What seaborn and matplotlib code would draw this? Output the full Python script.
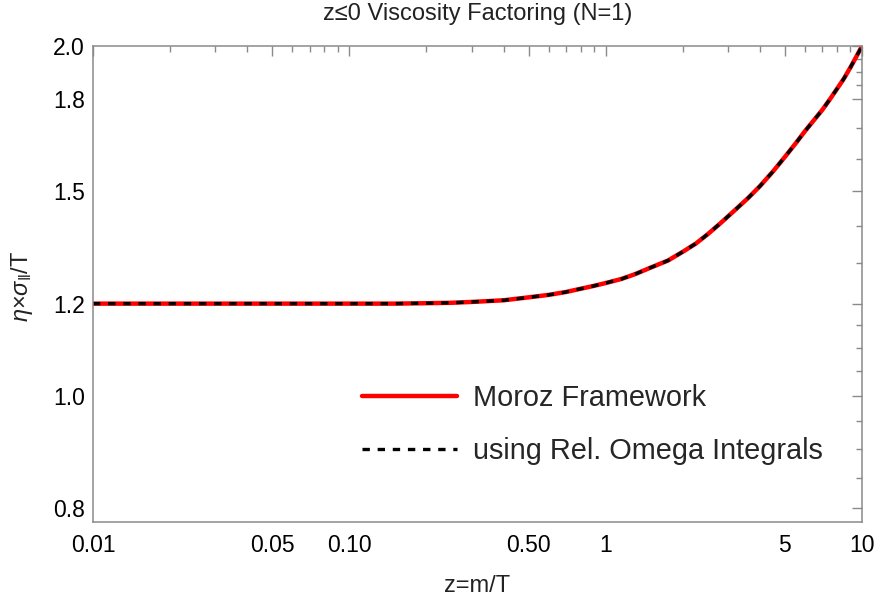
import numpy as np
import pandas as pd
import matplotlib
matplotlib.use("Agg")
import matplotlib.pyplot as plt
import matplotlib.ticker as mticker
import seaborn as sns

# values
z_vals = [0.01, 0.02, 0.05, 0.1, 0.15, 0.2, 0.25, 0.3, 0.4, 0.5, 0.6, 0.7, 0.8,
          0.9, 1.0, 1.15, 1.3, 1.5, 1.75, 2.0, 2.25, 2.5, 2.8, 3.2, 3.6, 4.0,
          4.5, 5.0, 5.5, 6.0, 6.5, 7.0, 7.5, 8.0, 8.5, 9.0, 9.5, 10.0]
eta_moroz = [1.2, 1.2, 1.2, 1.2, 1.2, 1.201, 1.202, 1.204, 1.208, 1.215, 1.221,
             1.228, 1.236, 1.243, 1.25, 1.26, 1.272, 1.289, 1.307, 1.33, 1.352,
             1.377, 1.407, 1.445, 1.48, 1.515, 1.56, 1.605, 1.648, 1.69, 1.727,
             1.762, 1.8, 1.838, 1.875, 1.916, 1.958, 2.0]
eta_omega = [1.2, 1.2, 1.2, 1.2, 1.2, 1.201, 1.202, 1.204, 1.208, 1.215, 1.221,
             1.228, 1.236, 1.243, 1.25, 1.26, 1.272, 1.289, 1.307, 1.33, 1.352,
             1.377, 1.407, 1.445, 1.48, 1.515, 1.56, 1.605, 1.648, 1.69, 1.727,
             1.762, 1.8, 1.838, 1.875, 1.916, 1.958, 2.0]

x_ticks = [0.01, 0.05, 0.1, 0.5, 1, 5, 10]
x_ticklabels = ["0.01", "0.05", "0.10", "0.50", "1", "5", "10"]
y_ticks = [0.8, 1.0, 1.2, 1.5, 1.8, 2.0]
y_ticklabels = ["0.8", "1.0", "1.2", "1.5", "1.8", "2.0"]
y_minor = [0.85, 0.9, 0.95, 1.05, 1.1, 1.15, 1.3, 1.4, 1.6, 1.7, 1.85, 1.9, 1.95]

sns.set_style("white")
plt.rcParams['font.family'] = ['Liberation Sans', 'DejaVu Sans']
plt.rcParams['mathtext.fontset'] = 'custom'
plt.rcParams['mathtext.rm'] = 'Liberation Sans'
plt.rcParams['mathtext.it'] = 'Liberation Sans:italic'
plt.rcParams['lines.scale_dashes'] = False

df = pd.DataFrame({"z": z_vals, "moroz": eta_moroz, "omega": eta_omega})

fig = plt.figure(figsize=(8.78, 6.03), dpi=100)
ax = fig.add_axes([0.1059, 0.1348, 0.8759, 0.7889])

sns.lineplot(data=df, x="z", y="moroz", ax=ax, color="#ff0000", lw=3.2,
             label="Moroz Framework", solid_joinstyle="round")
sns.lineplot(data=df, x="z", y="omega", ax=ax, color="black", lw=2.4,
             label="using Rel. Omega Integrals")
# dashed black on top of the red line (dash/gap in points)
ax.get_lines()[1].set_linestyle((0, (5.3, 5.6)))

ax.set_xscale("log")
ax.set_yscale("log")
ax.set_xlim(0.01, 10)
ax.set_ylim(0.7787, 2.0)

ax.xaxis.set_major_locator(mticker.FixedLocator(x_ticks))
ax.xaxis.set_major_formatter(mticker.FixedFormatter(x_ticklabels))
ax.xaxis.set_minor_locator(mticker.LogLocator(base=10, subs=[2, 3, 4, 6, 7, 8, 9]))
ax.xaxis.set_minor_formatter(mticker.NullFormatter())
ax.yaxis.set_major_locator(mticker.FixedLocator(y_ticks))
ax.yaxis.set_major_formatter(mticker.FixedFormatter(y_ticklabels))
ax.yaxis.set_minor_locator(mticker.FixedLocator(y_minor))
ax.yaxis.set_minor_formatter(mticker.NullFormatter())

for sp in ax.spines.values():
    sp.set_color("#8a8a8a")
    sp.set_linewidth(1.1)
ax.tick_params(which="both", direction="in", top=True, right=True,
               color="#8a8a8a", width=1.0, labelcolor="black")
ax.tick_params(which="major", length=7, labelsize=16.5)
ax.tick_params(axis="x", which="major", pad=9)
ax.tick_params(axis="y", which="major", pad=6)
ax.tick_params(which="minor", length=4.5)

ax.set_title("z≤0 Viscosity Factoring (N=1)", fontsize=17, pad=19, color="#222222")
ax.set_xlabel("z=m/T", fontsize=17, color="#222222")
ax.set_ylabel(r"$\eta{\times}\sigma_{\Vert}/\mathrm{T}$", fontsize=17, color="#222222")
ax.xaxis.set_label_coords(0.5, -0.111)
ax.yaxis.set_label_coords(-0.076, 0.495)

ax.legend(loc="center left", bbox_to_anchor=(0.3498, 0.2043), frameon=False,
          fontsize=20.8, handlelength=3.3, handletextpad=0.55, labelspacing=0.85,
          borderpad=0, borderaxespad=0)

fig.savefig("out.png", dpi=100)
